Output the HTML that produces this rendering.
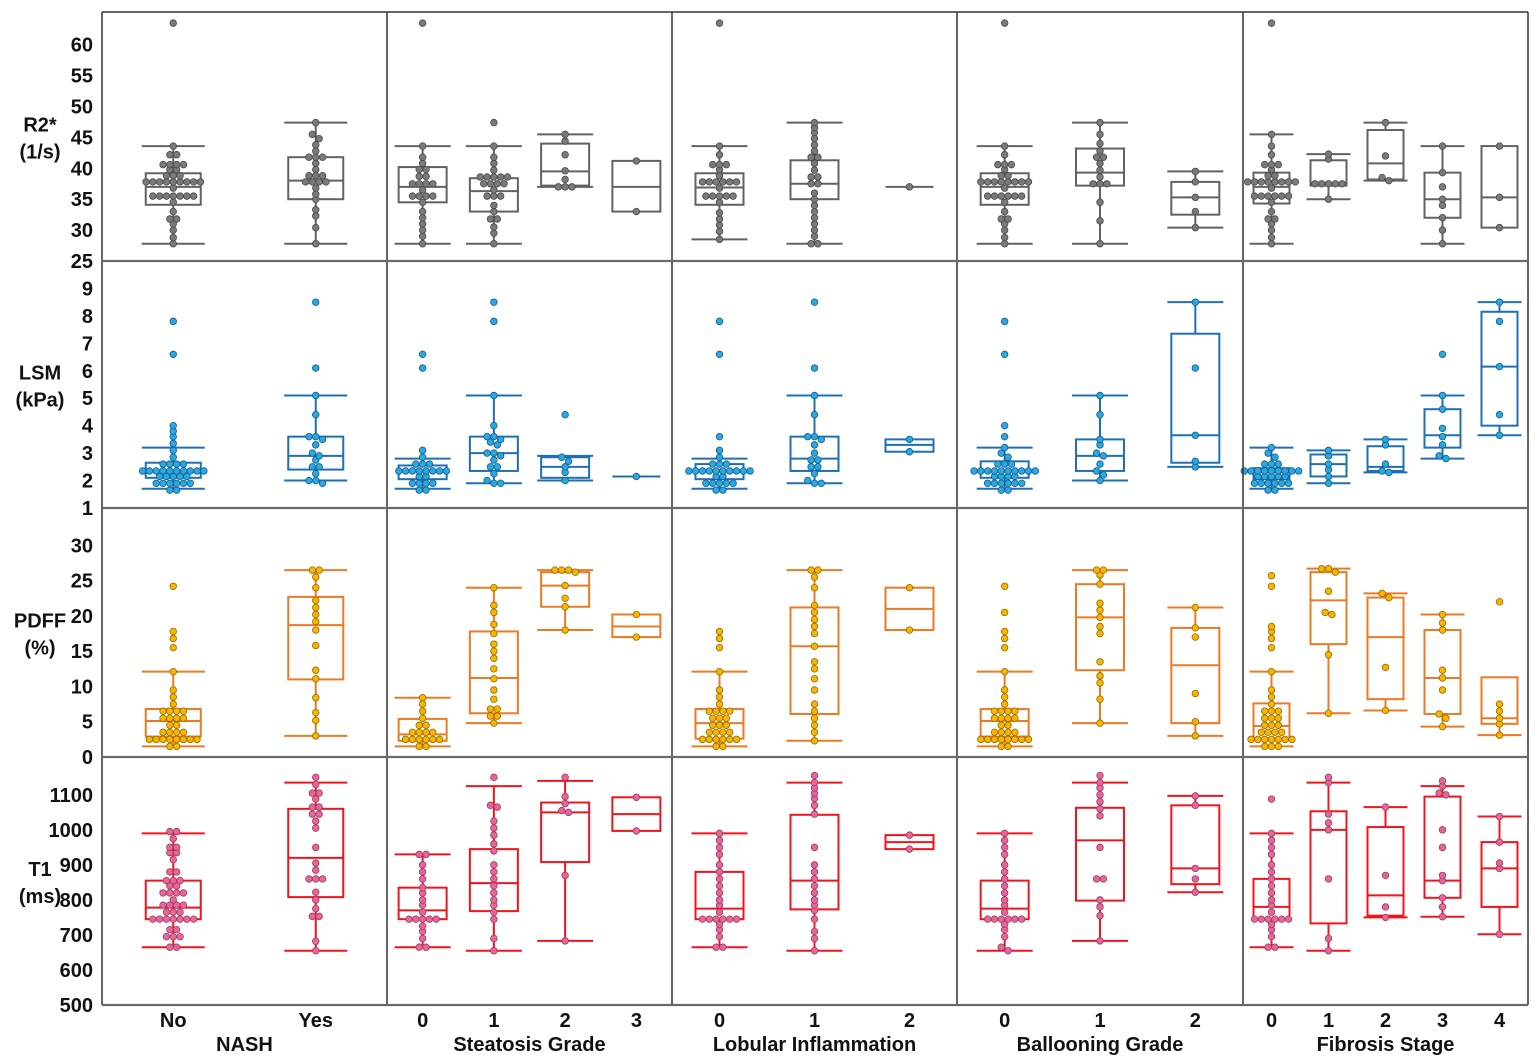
<!DOCTYPE html>
<html><head><meta charset="utf-8"><style>
html,body{margin:0;padding:0;background:#fff;}
svg{display:block;font-family:"Liberation Sans",sans-serif;}
</style></head><body>
<svg id="chart" width="1539" height="1058" viewBox="0 0 1539 1058" xmlns="http://www.w3.org/2000/svg"></svg>
<script>
// ---------- data ----------
const panelTitles = ["NASH","Steatosis Grade","Lobular Inflammation","Ballooning Grade","Fibrosis Stage"];
const panelCats = [["No","Yes"],["0","1","2","3"],["0","1","2"],["0","1","2"],["0","1","2","3","4"]];
const rowTitles = [["R2*","(1/s)"],["LSM","(kPa)"],["PDFF","(%)"],["T1","(ms)"]];
const r2Ticks = [25,30,35,40,45,50,55,60];
const lsmTicks = [1,2,3,4,5,6,7,8,9];
const pdffTicks = [0,5,10,15,20,25,30];
const t1Ticks = [500,600,700,800,900,1000,1100];
const r2Domain = [25,65.3];
const lsmDomain = [1,10];
const pdffDomain = [0,35.3];
const t1Domain = [500,1208];

// box stats: [whiskerLow, q1, median, q3, whiskerHigh]
const r2Boxes = [
 [[27.8,34.1,37,39.2,43.6],[27.8,35,38,41.8,47.4]],
 [[27.8,34.5,37,40.2,43.6],[27.8,33,36.3,38.4,43.6],[37,37.2,39.5,44,45.5],[33,33,37,41.2,41.2]],
 [[28.5,34.1,36.9,39.2,43.6],[27.8,35,37.5,41.3,47.4],[37,37,37,37,37]],
 [[27.8,34.1,37,39.2,43.6],[27.8,37.2,39.3,43.2,47.4],[30.4,32.5,35.3,37.8,39.5]],
 [[27.8,34.3,37,39.3,45.5],[35,37.2,37.5,41.3,42.3],[38,38.2,40.8,46.2,47.4],[27.8,32,35,39.3,43.6],[30.4,30.4,35.3,43.6,43.6]]
];
const r2Points = [
 [[27.8,28.8,30,31,31.8,31.8,33,34.5,35.5,35.5,35.5,35.5,35.5,35.5,35.5,36.8,37.8,37.8,37.8,37.8,37.8,37.8,37.8,37.8,37.8,38.8,38.8,38.8,39.8,39.8,40.6,40.6,40.6,40.6,42.2,42.2,43.6,63.5],
  [27.8,30.4,32.3,33.3,35,35.8,36.8,37.8,37.8,37.8,37.8,38.8,38.8,38.8,39.8,40.8,41.8,41.8,41.8,42.8,43.8,44.8,45.5,47.4]],
 [[27.8,29,30,31,32,33,34.5,35.5,35.5,35.5,35.5,36.5,37.5,37.5,37.5,37.5,38.7,38.7,39.8,39.8,40.8,41.8,43.6,63.5],
  [27.8,29.5,30.5,31.8,31.8,33,34,35.5,35.5,35.5,36.5,37.5,37.5,37.5,37.5,38.6,38.6,38.6,38.6,38.6,39.7,40.8,41.8,43.6,47.4],
  [37,37,37,38.2,39.6,42.2,44.4,45.5],[33,41.2]],
 [[28.5,29.8,30.8,31.8,32.8,34.5,35.5,35.5,35.5,35.5,35.5,36.8,37.8,37.8,37.8,37.8,37.8,37.8,38.8,39.8,40.6,40.6,40.6,42.2,43.6,63.5],
  [27.8,27.8,29,30,31,32,33,34,35,36,37.5,37.5,38.6,38.6,39.7,40.8,41.8,41.8,42.8,43.8,44.8,45.8,46.6,47.4],[37]],
 [[27.8,28.8,30,31,31.8,31.8,33,34.5,35.5,35.5,35.5,35.5,35.5,35.5,36.8,37.8,37.8,37.8,37.8,37.8,37.8,37.8,37.8,38.8,38.8,39.8,40.6,40.6,40.6,42.2,43.6,63.5],
  [27.8,31.5,34.5,37.5,37.5,37.5,38.6,39.7,40.8,41.8,41.8,42.8,44,45.5,47.4],[30.4,33,35.3,37.8,39.5]],
 [[27.8,28.8,30,31,31.8,31.8,33,34.5,35.5,35.5,35.5,35.5,35.5,35.5,36.8,37.8,37.8,37.8,37.8,37.8,37.8,37.8,37.8,38.8,38.8,39.8,40.6,40.6,40.6,42.2,43.6,45.5,63.5],
  [35,37.5,37.5,37.5,37.5,37.5,41.5,42.3],[38,38.5,42,47.4],[27.8,30,32,34,35,37,39.3,43.6],[30.4,35.3,43.6]]
];
const lsmBoxes = [
 [[1.7,2.1,2.35,2.65,3.2],[2.0,2.4,2.9,3.6,5.1]],
 [[1.7,2.05,2.35,2.55,2.8],[1.9,2.35,3.0,3.6,5.1],[2.0,2.1,2.5,2.85,2.9],[2.15,2.15,2.15,2.15,2.15]],
 [[1.7,2.05,2.35,2.6,2.8],[1.9,2.35,2.8,3.6,5.1],[3.05,3.05,3.3,3.5,3.5]],
 [[1.7,2.1,2.35,2.7,3.2],[2.0,2.35,2.9,3.5,5.1],[2.5,2.65,3.65,7.35,8.5]],
 [[1.7,2.05,2.3,2.45,3.2],[1.9,2.15,2.6,2.95,3.1],[2.3,2.35,2.5,3.25,3.5],[2.8,3.2,3.65,4.6,5.1],[3.65,4.0,6.15,8.15,8.5]]
];
const lsmPoints = [
 [[1.65,1.65,1.9,1.9,1.9,1.9,1.9,1.9,2.15,2.15,2.15,2.15,2.15,2.35,2.35,2.35,2.35,2.35,2.35,2.35,2.35,2.35,2.35,2.6,2.6,2.6,2.6,2.85,3.1,3.35,3.6,3.8,4.0,6.6,7.8],
  [1.9,2.0,2.0,2.25,2.5,2.5,2.75,2.9,3.0,3.3,3.5,3.6,3.6,4.4,5.1,6.1,8.5]],
 [[1.65,1.65,1.9,1.9,1.9,1.9,2.15,2.15,2.35,2.35,2.35,2.35,2.35,2.35,2.35,2.35,2.6,2.6,2.6,2.85,3.1,6.1,6.6],
  [1.9,1.9,2.0,2.25,2.5,2.5,2.75,2.9,3.0,3.0,3.3,3.4,3.5,3.6,3.6,4.0,5.1,7.8,8.5],
  [2.0,2.3,2.5,2.7,2.85,4.4],[2.15]],
 [[1.65,1.65,1.9,1.9,1.9,1.9,1.9,2.15,2.15,2.35,2.35,2.35,2.35,2.35,2.35,2.35,2.35,2.35,2.35,2.6,2.6,2.6,2.85,3.1,3.6,6.6,7.8],
  [1.9,1.9,2.0,2.25,2.5,2.5,2.75,2.75,3.0,3.3,3.5,3.6,3.6,4.4,5.1,6.1,8.5],[3.05,3.5]],
 [[1.65,1.65,1.9,1.9,1.9,1.9,1.9,1.9,2.15,2.15,2.15,2.15,2.35,2.35,2.35,2.35,2.35,2.35,2.35,2.35,2.35,2.35,2.6,2.6,2.6,2.85,3.0,3.2,3.6,4.0,6.6,7.8],
  [2.0,2.2,2.35,2.6,2.9,3.0,3.3,3.5,4.4,5.1],[2.5,2.7,3.65,6.1,8.5]],
 [[1.65,1.65,1.9,1.9,1.9,1.9,1.9,1.9,2.15,2.15,2.15,2.15,2.15,2.35,2.35,2.35,2.35,2.35,2.35,2.35,2.35,2.35,2.6,2.6,2.6,2.85,3.0,3.2],
  [1.9,2.15,2.4,2.6,2.9,3.1],[2.3,2.35,2.6,3.3,3.5],[2.8,2.9,3.3,3.6,3.9,4.6,5.1,6.6],[3.65,4.4,6.15,7.8,8.5]]
];
const pdffBoxes = [
 [[1.5,2.9,5.1,6.8,12.1],[3.0,11,18.7,22.7,26.5]],
 [[1.5,2.3,3.2,5.4,8.4],[4.8,6.2,11.2,17.8,24],[18,21.3,24.3,26.2,26.5],[17,17,18.5,20.2,20.2]],
 [[1.5,2.6,4.8,6.8,12.1],[2.3,6.1,15.7,21.2,26.5],[18,18,21,24,24]],
 [[1.5,2.9,5.1,6.8,12.1],[4.8,12.3,19.8,24.5,26.5],[3,4.8,13,18.3,21.2]],
 [[1.5,2.6,4.4,7.6,12.1],[6.2,16,22.2,26.2,26.7],[6.6,8.2,17,22.6,23.2],[4.3,6.1,11.2,18,20.2],[3.1,4.7,5.5,11.3,11.3]]
];
const pdffPoints = [
 [[1.5,1.5,2.5,2.5,2.5,2.5,2.5,2.5,2.5,2.5,3.5,3.5,3.5,3.5,4.5,4.5,5.5,5.5,5.5,5.5,6.5,6.5,6.5,6.5,7.5,8.5,9.5,12.1,15.5,16.8,17.8,24.2],
  [3.0,5.2,6.3,8.4,11.1,12.3,15.8,18.0,19.2,20.2,21.2,22.2,24.0,25.5,26.5,26.5]],
 [[1.5,1.5,2.5,2.5,2.5,2.5,2.5,2.5,3.5,3.5,3.5,3.5,4.5,4.5,5.5,6.5,7.5,8.4],
  [4.8,5.8,5.8,6.8,6.8,8.2,9.5,11.1,12.5,14,15,16,17.5,18.8,20.5,21.5,24],
  [18,21.3,22.5,24.3,26.2,26.5,26.5,26.5],[17,20.2]],
 [[1.5,1.5,2.5,2.5,2.5,2.5,2.5,2.5,3.5,3.5,3.5,3.5,4.5,4.5,4.5,5.5,5.5,5.5,6.5,6.5,6.5,6.5,7.5,8.5,9.5,12.1,15.5,16.8,17.8],
  [2.3,3.5,4.5,5.5,6.5,7.5,9.5,11.1,12.5,13.5,15.7,17.5,18.5,19.5,20.5,21.5,24,25.5,26.5,26.5],[18,24]],
 [[1.5,1.5,2.5,2.5,2.5,2.5,2.5,2.5,2.5,2.5,3.5,3.5,3.5,3.5,4.5,4.5,5.5,5.5,5.5,5.5,6.5,6.5,6.5,6.5,7.5,8.5,9.5,12.1,15.5,16.8,17.8,20.5,24.2],
  [4.8,8.2,10.5,11.5,13.5,17.5,18.5,19.8,20.8,21.8,24.5,25.8,26.5,26.5],[3,5,9,17,18.3,21.2]],
 [[1.5,1.5,1.5,2.5,2.5,2.5,2.5,2.5,2.5,2.5,3.5,3.5,3.5,3.5,4.5,4.5,4.5,5.5,5.5,5.5,6.5,6.5,6.5,7.5,8.5,9.5,12.1,15.5,16.8,17.8,18.5,24.2,25.7],
  [6.2,14.5,20.2,20.5,23.5,26.2,26.7,26.7],[6.6,12.7,22.6,23.2],[4.3,5.5,6.1,9.5,11.2,12.3,18,19,20.2],[3.1,4.7,5.5,6.5,7.5,22]]
];
const t1Boxes = [
 [[665,745,778,855,990],[655,808,920,1060,1135]],
 [[665,745,770,835,930],[655,768,848,945,1125],[683,908,1050,1078,1140],[997,997,1045,1093,1093]],
 [[665,745,775,880,990],[655,773,855,1043,1135],[945,945,965,985,985]],
 [[655,745,775,855,990],[683,798,970,1063,1135],[822,845,890,1070,1097]],
 [[665,745,780,860,990],[655,733,1000,1053,1135],[750,755,813,1008,1065],[752,806,855,1095,1125],[702,780,890,965,1038]]
];
const t1Points = [
 [[665,665,695,695,695,715,715,745,745,745,745,745,745,745,765,765,765,785,785,785,785,800,820,820,820,820,840,840,855,855,855,880,880,915,935,935,950,950,975,995,995],
  [655,682,753,753,775,800,822,860,860,860,885,905,950,1005,1025,1045,1045,1065,1065,1088,1105,1105,1130,1150]],
 [[665,665,690,710,725,745,745,745,745,745,765,785,800,820,835,860,880,900,930,930],
  [655,690,745,765,785,800,820,840,860,880,900,940,960,985,1005,1025,1065,1070,1150],
  [683,870,1050,1055,1075,1095,1150],[997,1093]],
 [[665,665,695,715,730,745,745,745,745,745,745,765,785,800,820,840,860,880,900,930,950,970,990],
  [655,690,710,745,770,785,800,820,840,860,880,900,950,1045,1070,1090,1105,1120,1135,1155],[945,985]],
 [[655,665,695,715,730,745,745,745,745,745,745,765,785,800,820,840,860,880,900,930,950,970,990],
  [683,755,780,800,860,860,950,1040,1060,1080,1100,1120,1135,1155],[822,860,890,1070,1097]],
 [[665,665,695,715,730,745,745,745,745,745,745,765,785,800,820,840,860,880,900,930,950,970,990,1088],
  [655,690,860,1000,1020,1045,1135,1150],[750,780,870,1065],[752,780,806,855,870,950,1000,1100,1105,1125,1140],[702,890,905,965,1038]]
];

// ---------- layout ----------
const NS = "http://www.w3.org/2000/svg";
const svg = document.getElementById("chart");
const colX = [102,387,672,957,1243,1528];
const rowY = [12,261,508,757,1005];
const boxW = [55,48,48,48,36];
const rows = [
 {key:"r2",ticks:r2Ticks,dom:r2Domain,boxes:r2Boxes,pts:r2Points,stroke:"#626262",fill:"#7a7a7a",dstroke:"#4a4a4a"},
 {key:"lsm",ticks:lsmTicks,dom:lsmDomain,boxes:lsmBoxes,pts:lsmPoints,stroke:"#1f6fb5",fill:"#27a9e1",dstroke:"#1a5a8a"},
 {key:"pdff",ticks:pdffTicks,dom:pdffDomain,boxes:pdffBoxes,pts:pdffPoints,stroke:"#ea7a24",fill:"#f7b500",dstroke:"#9a6a00"},
 {key:"t1",ticks:t1Ticks,dom:t1Domain,boxes:t1Boxes,pts:t1Points,stroke:"#f0141e",fill:"#e6669b",dstroke:"#a23a5a"}
];
function mk(tag, attrs, parent){
  const e = document.createElementNS(NS, tag);
  for (const k in attrs) e.setAttribute(k, attrs[k]);
  (parent||svg).appendChild(e);
  return e;
}
function yScale(r, v){
  const y0 = rowY[r+1], y1 = rowY[r], d = rows[r].dom;
  return y0 - (v - d[0]) / (d[1] - d[0]) * (y0 - y1);
}
function xScale(p, i){
  const n = panelCats[p].length, w = (colX[p+1]-colX[p]) / n;
  return colX[p] + (i + 0.5) * w;
}
// bin-based swarm: points within one dot height share a horizontal row
function swarm(ys, d){
  const order = ys.map((y,i)=>i).sort((a,b)=>ys[a]-ys[b]);
  const xs = new Array(ys.length);
  let group = [], gStart = null;
  const flush = ()=>{
    const n = group.length;
    group.forEach((idx,k)=>{ xs[idx] = (k - (n-1)/2) * d; });
    group = [];
  };
  for (const i of order){
    if (gStart === null || ys[i] - gStart >= d*0.7){ flush(); gStart = ys[i]; }
    group.push(i);
  }
  flush();
  return xs;
}

rows.forEach((row, r)=>{
  const g = mk("g", {});
  
  
  row.ticks.forEach(t=>{
    const tx = mk("text", {x:93, y:yScale(r,t)+7, "text-anchor":"end", "font-size":"20", "font-weight":"bold", fill:"#111"}, g);
    tx.textContent = t;
    
    
  });
  const ty = (rowY[r]+rowY[r+1])/2;
  rowTitles[r].forEach((s,k)=>{
    const tt = mk("text", {x:40, y:ty - 5 + k*27, "text-anchor":"middle", "font-size":"20", "font-weight":"bold", fill:"#111"}, g);
    tt.textContent = s;
    
    
  });
  for (let p=0;p<5;p++){
    const bw = boxW[p];
    row.boxes[p].forEach((b,i)=>{
      const cx = xScale(p,i);
      const bg = mk("g", {stroke:row.stroke, "stroke-width":2, fill:"none"}, g);
      
      
      const yl=yScale(r,b[0]), yq1=yScale(r,b[1]), ym=yScale(r,b[2]), yq3=yScale(r,b[3]), yh=yScale(r,b[4]);
      mk("line",{x1:cx,x2:cx,y1:yh,y2:yq3},bg);
      mk("line",{x1:cx,x2:cx,y1:yq1,y2:yl},bg);
      if (b[0]!==b[1]) mk("line",{x1:cx-bw/2-4,x2:cx+bw/2+4,y1:yl,y2:yl},bg);
      if (b[4]!==b[3]) mk("line",{x1:cx-bw/2-4,x2:cx+bw/2+4,y1:yh,y2:yh},bg);
      if (b[3]!==b[1]) mk("rect",{x:cx-bw/2,y:yq3,width:bw,height:yq1-yq3},bg);
      mk("line",{x1:cx-bw/2,x2:cx+bw/2,y1:ym,y2:ym},bg);
      const vals = row.pts[p][i];
      const ys = vals.map(v=>yScale(r,v));
      const xs = swarm(ys, 6.8);
      vals.forEach((v,k)=>{
        const c = mk("circle",{cx:cx+xs[k], cy:ys[k], r:3.3, fill:row.fill, stroke:row.dstroke, "stroke-width":0.8}, g);
        
        
      });
    });
  }
});

for (let p=0;p<6;p++){
  const l = mk("line",{x1:colX[p],x2:colX[p],y1:rowY[0],y2:rowY[4],stroke:"#333","stroke-width":1.5});
  
  
}
for (let r=0;r<5;r++){
  const l = mk("line",{x1:colX[0],x2:colX[5],y1:rowY[r],y2:rowY[r],stroke:(r===0?"#333":"#6a6a6a"),"stroke-width":(r===0?1.5:2.2)});
  
  
}
panelCats.forEach((cats,p)=>{
  cats.forEach((c,i)=>{
    const t = mk("text",{x:xScale(p,i), y:1027, "text-anchor":"middle","font-size":"20","font-weight":"bold",fill:"#111"});
    t.textContent = c;
    
    
  });
  const t = mk("text",{x:(colX[p]+colX[p+1])/2, y:1051, "text-anchor":"middle","font-size":"20","font-weight":"bold",fill:"#111"});
  t.textContent = panelTitles[p];
  
  
});
</script>
</body></html>
